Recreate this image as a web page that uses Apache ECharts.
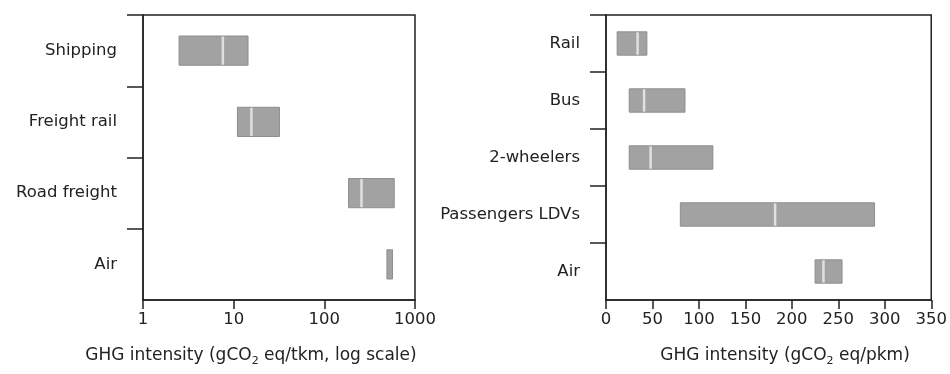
<!DOCTYPE html>
<html>
<head>
<meta charset="utf-8">
<script src="https://cdn.jsdelivr.net/npm/echarts@6/dist/echarts.min.js"></script>
<style>
  html, body { margin: 0; padding: 0; background: #fff; }
  #chart { width: 950px; height: 374px; }
</style>
</head>
<body>
<div id="chart"></div>
<script>
// Freight modes (gCO2 eq per tonne-km, log scale)
const freightCats = ['Shipping', 'Freight rail', 'Road freight', 'Air'];
const freightLow  = [2.5, 11, 185, 490];
const freightMid  = [7.6, 15.7, 257, null];
const freightHigh = [14.4, 32, 590, 565];
const freightTicks = [1, 10, 100, 1000];

// Passenger modes (gCO2 eq per passenger-km)
const passCats = ['Rail', 'Bus', '2-wheelers', 'Passengers LDVs', 'Air'];
const passLow  = [12, 25, 25, 80, 225];
const passMid  = [34, 41, 48, 182, 234];
const passHigh = [44, 85, 115, 289, 254];

const FONT = 'DejaVu Sans';
const INK = '#222';

function rangeRows(low, mid, high) {
  return low.map((v, i) => [i + 0.5, v, mid[i], high[i]]);
}

// One grey bar from low to high, with a pale divider at the mid value
function renderRange(params, api) {
  const y = api.value(0);
  const lo = api.value(1), mid = api.value(2), hi = api.value(3);
  const a = api.coord([lo, y - 0.205]);
  const b = api.coord([hi, y + 0.205]);
  const children = [{
    type: 'rect',
    shape: { x: a[0], y: a[1], width: b[0] - a[0], height: b[1] - a[1] },
    style: { fill: '#a2a2a2', stroke: '#8e8e8e', lineWidth: 1 }
  }];
  if (mid != null && !isNaN(mid)) {
    const m = api.coord([mid, y])[0];
    children.push({
      type: 'line',
      shape: { x1: m, y1: a[1] + 0.5, x2: m, y2: b[1] - 0.5 },
      style: { stroke: '#e0e0e0', lineWidth: 2.5 }
    });
  }
  return { type: 'group', children };
}

function catAxis(gridIndex, cats) {
  return {
    type: 'value', gridIndex, min: 0, max: cats.length, inverse: true,
    splitLine: { show: false },
    axisLine: { show: true, onZero: false, lineStyle: { color: INK, width: 1.5 } },
    axisTick: {
      show: true, length: 16, lineStyle: { color: INK, width: 1.5 },
      customValues: cats.map((c, i) => i)
    },
    axisLabel: {
      margin: 26, fontFamily: FONT, fontSize: 16.5, color: INK,
      customValues: cats.map((c, i) => i + 0.5),
      formatter: v => cats[Math.floor(v)]
    }
  };
}

const nameStyle = (text) => ({
  text,
  align: 'center', verticalAlign: 'middle',
  fontFamily: FONT, fontSize: 17, fill: INK,
  rich: { sub: { fontFamily: FONT, fontSize: 11, fill: INK, padding: [10, 0, 0, 0] } }
});

const chart = echarts.init(document.getElementById('chart'), null, { renderer: 'canvas' });
chart.setOption({
  animation: false,
  backgroundColor: '#fff',
  grid: [
    { left: 143, right: 535, top: 15, bottom: 74, show: true, borderColor: INK, borderWidth: 1.5, backgroundColor: 'transparent' },
    { left: 606, right: 17, top: 15, bottom: 74, show: true, borderColor: INK, borderWidth: 1.5, backgroundColor: 'transparent' }
  ],
  xAxis: [
    {
      type: 'log', gridIndex: 0, logBase: 10, min: freightTicks[0], max: freightTicks[freightTicks.length - 1],
      position: 'bottom',
      splitLine: { show: false }, minorTick: { show: false },
      axisLine: { onZero: false, lineStyle: { color: INK, width: 1.5 } },
      axisTick: { length: 9, lineStyle: { color: INK, width: 1.5 } },
      axisLabel: { margin: 11, fontFamily: FONT, fontSize: 16.5, color: INK, formatter: v => String(v) }
    },
    {
      type: 'value', gridIndex: 1, min: 0, max: 350, interval: 50,
      position: 'bottom',
      splitLine: { show: false },
      axisLine: { onZero: false, lineStyle: { color: INK, width: 1.5 } },
      axisTick: { length: 9, lineStyle: { color: INK, width: 1.5 } },
      axisLabel: { margin: 11, fontFamily: FONT, fontSize: 16.5, color: INK }
    }
  ],
  yAxis: [catAxis(0, freightCats), catAxis(1, passCats)],
  series: [
    {
      type: 'custom', xAxisIndex: 0, yAxisIndex: 0, renderItem: renderRange,
      encode: { x: [1, 2, 3], y: 0 }, data: rangeRows(freightLow, freightMid, freightHigh)
    },
    {
      type: 'custom', xAxisIndex: 1, yAxisIndex: 1, renderItem: renderRange,
      encode: { x: [1, 2, 3], y: 0 }, data: rangeRows(passLow, passMid, passHigh)
    }
  ],
  graphic: [
    { type: 'text', x: 251, y: 356, style: nameStyle('GHG intensity (gCO{sub|2} eq/tkm, log scale)') },
    { type: 'text', x: 785, y: 356, style: nameStyle('GHG intensity (gCO{sub|2} eq/pkm)') }
  ]
});
</script>
</body>
</html>
